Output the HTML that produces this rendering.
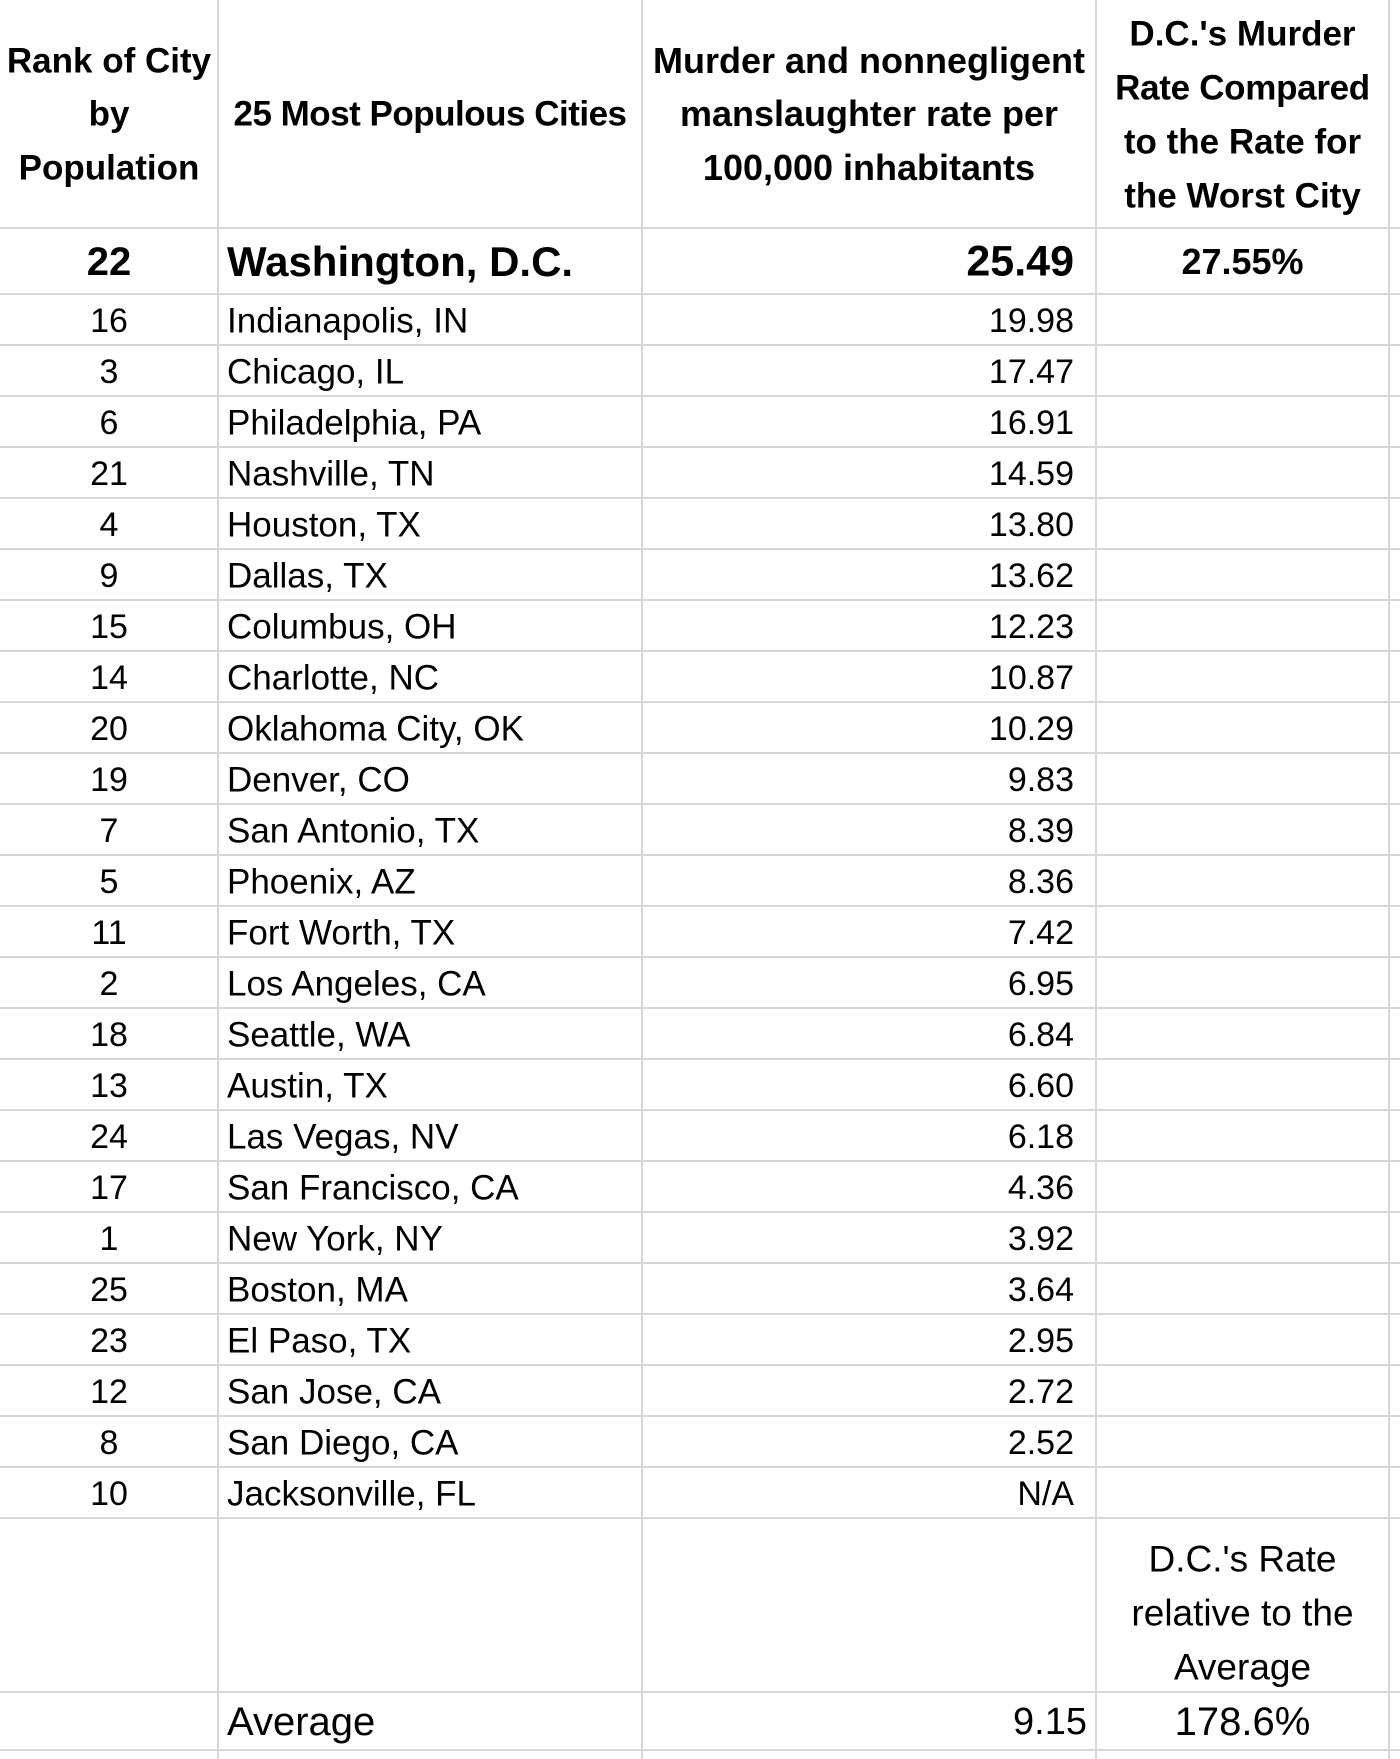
<!DOCTYPE html>
<html><head><style>
body{margin:0;width:1400px;height:1759px;background:#fff;position:relative;overflow:hidden;font-family:"Liberation Sans",sans-serif;color:#000}
.h{position:absolute;background:#d6d6d6;height:2px}
.v{position:absolute;background:#d6d6d6;width:2px}
.t{position:absolute;white-space:nowrap;line-height:1;transform:translateY(-50%)}
.b{font-weight:bold}
.c{text-align:center}
.r{text-align:right}
</style></head><body>
<div class="v" style="left:217px;top:0;height:1759px"></div>
<div class="v" style="left:641px;top:0;height:1759px"></div>
<div class="v" style="left:1095px;top:0;height:1759px"></div>
<div class="v" style="left:1388px;top:0;height:1759px"></div>
<div id="rows"></div>
<script>
const data=[["16","Indianapolis, IN","19.98"],["3","Chicago, IL","17.47"],["6","Philadelphia, PA","16.91"],["21","Nashville, TN","14.59"],["4","Houston, TX","13.80"],["9","Dallas, TX","13.62"],["15","Columbus, OH","12.23"],["14","Charlotte, NC","10.87"],["20","Oklahoma City, OK","10.29"],["19","Denver, CO","9.83"],["7","San Antonio, TX","8.39"],["5","Phoenix, AZ","8.36"],["11","Fort Worth, TX","7.42"],["2","Los Angeles, CA","6.95"],["18","Seattle, WA","6.84"],["13","Austin, TX","6.60"],["24","Las Vegas, NV","6.18"],["17","San Francisco, CA","4.36"],["1","New York, NY","3.92"],["25","Boston, MA","3.64"],["23","El Paso, TX","2.95"],["12","San Jose, CA","2.72"],["8","San Diego, CA","2.52"],["10","Jacksonville, FL","N/A"]];
let h='';
const hl=y=>h+=`<div class="h" style="left:0;width:1400px;top:${y}px"></div>`;
hl(227);hl(293);
data.forEach((d,i)=>{const top=294+51*i,cy=top+27;
h+=`<div class="t c" style="left:0;width:218px;top:${cy}px;font-size:34px">${d[0]}</div>`;
h+=`<div class="t" style="left:227px;top:${cy}px;font-size:35px">${d[1]}</div>`;
h+=`<div class="t r" style="left:642px;width:432px;top:${cy}px;font-size:34px">${d[2]}</div>`;
hl(top+50);});
hl(1691);hl(1749);
document.getElementById('rows').outerHTML=h;
</script>
<div class="t c b" style="left:0;width:218px;top:61px;font-size:35px">Rank of City</div>
<div class="t c b" style="left:0;width:218px;top:114px;font-size:35px">by</div>
<div class="t c b" style="left:0;width:218px;top:168px;font-size:35px">Population</div>
<div class="t c b" style="left:218px;width:424px;top:114px;font-size:35px;letter-spacing:-0.5px">25 Most Populous Cities</div>
<div class="t c b" style="left:642px;width:454px;top:61px;font-size:36px">Murder and nonnegligent</div>
<div class="t c b" style="left:642px;width:454px;top:114px;font-size:36px">manslaughter rate per</div>
<div class="t c b" style="left:642px;width:454px;top:168px;font-size:36px">100,000 inhabitants</div>
<div class="t c b" style="left:1096px;width:293px;top:34px;font-size:35px">D.C.'s Murder</div>
<div class="t c b" style="left:1096px;width:293px;top:88px;font-size:35px;letter-spacing:-0.3px">Rate Compared</div>
<div class="t c b" style="left:1096px;width:293px;top:142px;font-size:35px">to the Rate for</div>
<div class="t c b" style="left:1096px;width:293px;top:196px;font-size:35px">the Worst City</div>
<div class="t c b" style="left:0;width:218px;top:262px;font-size:40px">22</div>
<div class="t b" style="left:227px;top:262px;font-size:42px">Washington, D.C.</div>
<div class="t r b" style="left:642px;width:432px;top:262px;font-size:43px">25.49</div>
<div class="t c b" style="left:1096px;width:293px;top:262px;font-size:36px">27.55%</div>
<div class="t c" style="left:1096px;width:293px;top:1559px;font-size:37px">D.C.'s Rate</div>
<div class="t c" style="left:1096px;width:293px;top:1613px;font-size:37px">relative to the</div>
<div class="t c" style="left:1096px;width:293px;top:1667px;font-size:37px">Average</div>
<div class="t" style="left:227px;top:1722px;font-size:40px">Average</div>
<div class="t r" style="left:642px;width:445px;top:1722px;font-size:38px">9.15</div>
<div class="t c" style="left:1096px;width:293px;top:1722px;font-size:40px">178.6%</div>
</body></html>
